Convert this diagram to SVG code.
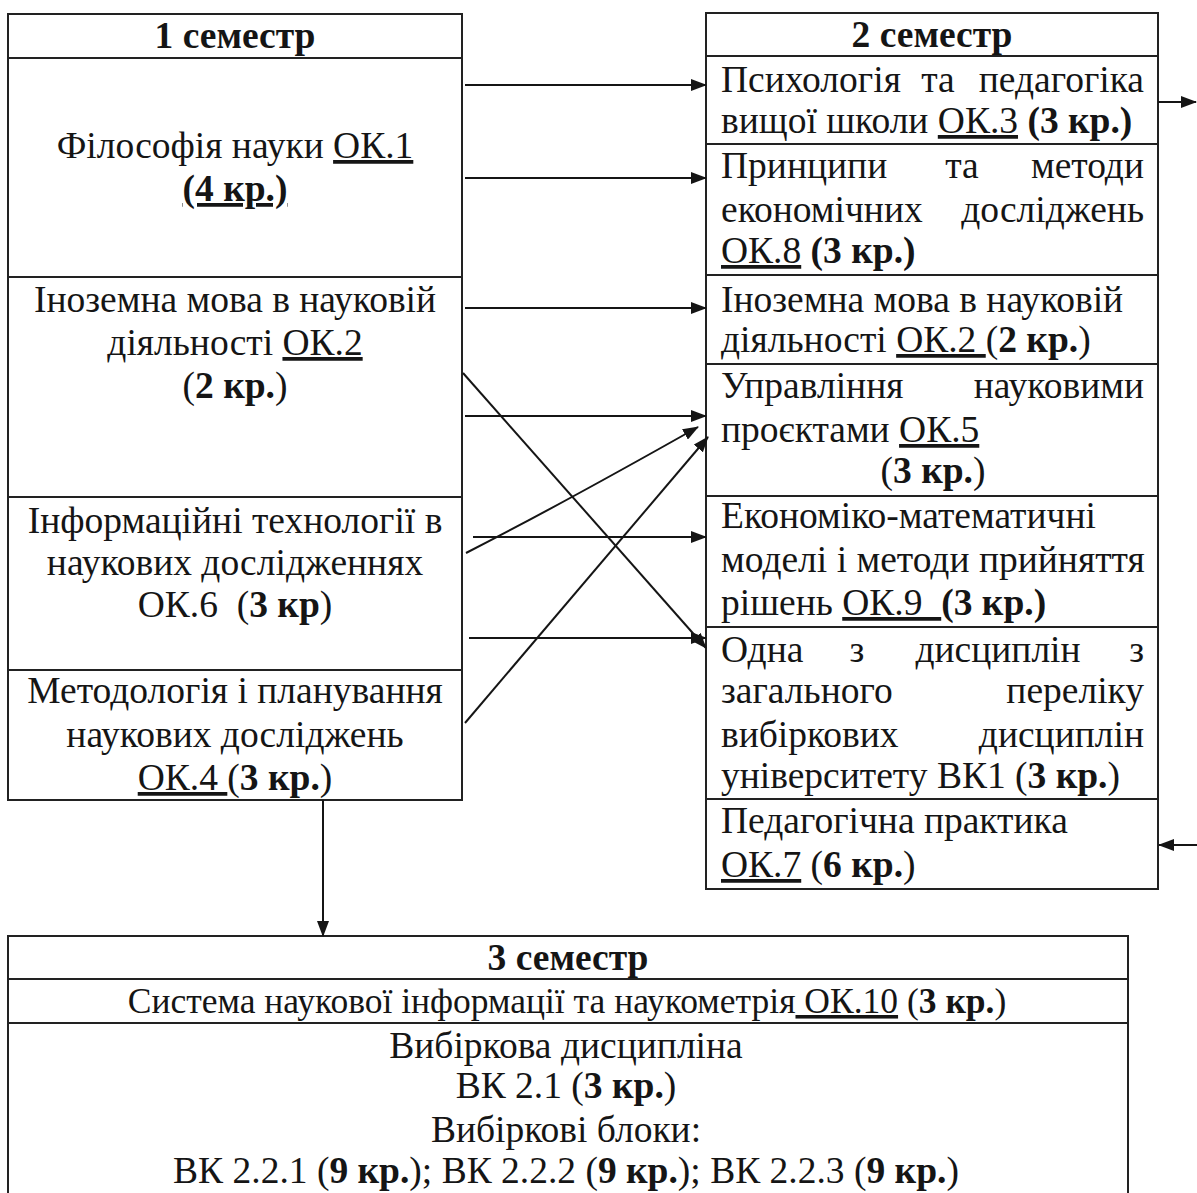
<svg xmlns="http://www.w3.org/2000/svg" width="1197" height="1193" viewBox="0 0 1197 1193">
<style>
text{font-family:"Liberation Serif","DejaVu Serif",serif;font-size:37.5px;fill:#151515}
.m{text-anchor:middle}
.e{text-anchor:end}
.b{font-weight:bold}
.u{text-decoration:underline}
.box{fill:none;stroke:#222;stroke-width:2}
.c{fill:none;stroke:#151515;stroke-width:2;marker-end:url(#ah)}
</style>
<defs>
<marker id="ah" viewBox="0 0 16 12" refX="15" refY="6" markerWidth="16" markerHeight="12" markerUnits="userSpaceOnUse" orient="auto">
<path d="M0,0 L16,6 L0,12 z" fill="#151515"/>
</marker>
</defs>
<rect width="1197" height="1193" fill="#fff"/>

<g id="sem1">
<rect class="box" x="8" y="14" width="454" height="786"/>
<line class="box" x1="8" y1="58" x2="462" y2="58"/>
<line class="box" x1="8" y1="277" x2="462" y2="277"/>
<line class="box" x1="8" y1="497" x2="462" y2="497"/>
<line class="box" x1="8" y1="670" x2="462" y2="670"/>
<text class="m b" x="235" y="48">1 семестр</text>
</g>
<g id="ok1">
<text class="m" x="235" y="158">Філософія науки <tspan class="u">ОК.1</tspan></text>
<text class="m b u" x="235" y="201">(4 кр.)</text>
</g>
<g id="ok2a">
<text class="m" x="235" y="312">Іноземна мова в науковій</text>
<text class="m" x="235" y="355">діяльності <tspan class="u">ОК.2</tspan></text>
<text class="m" x="235" y="398">(<tspan class="b">2 кр.</tspan>)</text>
</g>
<g id="ok6">
<text class="m" x="235" y="533">Інформаційні технології в</text>
<text class="m" x="235" y="575">наукових дослідженнях</text>
<text class="m" x="235" y="617">ОК.6&#160; (<tspan class="b">3 кр</tspan>)</text>
</g>
<g id="ok4">
<text class="m" x="235" y="703">Методологія і планування</text>
<text class="m" x="235" y="747">наукових досліджень</text>
<text class="m" x="235" y="790"><tspan class="u">ОК.4 </tspan>(<tspan class="b">3 кр.</tspan>)</text>
</g>

<g id="sem2">
<rect class="box" x="706" y="13" width="452" height="876"/>
<line class="box" x1="706" y1="56" x2="1158" y2="56"/>
<line class="box" x1="706" y1="144" x2="1158" y2="144"/>
<line class="box" x1="706" y1="275" x2="1158" y2="275"/>
<line class="box" x1="706" y1="364" x2="1158" y2="364"/>
<line class="box" x1="706" y1="496" x2="1158" y2="496"/>
<line class="box" x1="706" y1="627" x2="1158" y2="627"/>
<line class="box" x1="706" y1="799" x2="1158" y2="799"/>
<text class="m b" x="932" y="47">2 семестр</text>
</g>
<g id="ok3">
<text x="721" y="92">Психологія</text><text class="m" x="938" y="92">та</text><text class="e" x="1144" y="92">педагогіка</text>
<text x="721" y="133">вищої школи <tspan class="u">ОК.3</tspan> <tspan class="b">(3 кр.)</tspan></text>
</g>
<g id="ok8">
<text x="721" y="178">Принципи</text><text class="m" x="962" y="178">та</text><text class="e" x="1144" y="178">методи</text>
<text x="721" y="222">економічних</text><text class="e" x="1144" y="222">досліджень</text>
<text x="721" y="263"><tspan class="u">ОК.8</tspan> <tspan class="b">(3 кр.)</tspan></text>
</g>
<g id="ok2b">
<text x="721" y="312">Іноземна мова в науковій</text>
<text x="721" y="352">діяльності <tspan class="u">ОК.2 </tspan>(<tspan class="b">2 кр.</tspan>)</text>
</g>
<g id="ok5">
<text x="721" y="398">Управління</text><text class="e" x="1144" y="398">науковими</text>
<text x="721" y="442">проєктами <tspan class="u">ОК.5</tspan></text>
<text class="m" x="933" y="483">(<tspan class="b">3 кр.</tspan>)</text>
</g>
<g id="ok9">
<text x="721" y="528">Економіко-математичні</text>
<text x="721" y="572">моделі і методи прийняття</text>
<text x="721" y="615">рішень <tspan class="u">ОК.9&#160; </tspan><tspan class="b">(3 кр.)</tspan></text>
</g>
<g id="vk1">
<text x="721" y="662">Одна</text><text class="m" x="857" y="662">з</text><text class="m" x="998" y="662">дисциплін</text><text class="e" x="1144" y="662">з</text>
<text x="721" y="703">загального</text><text class="e" x="1144" y="703">переліку</text>
<text x="721" y="747">вибіркових</text><text class="e" x="1144" y="747">дисциплін</text>
<text x="721" y="788">університету ВК1 (<tspan class="b">3 кр.</tspan>)</text>
</g>
<g id="ok7">
<text x="721" y="833">Педагогічна практика</text>
<text x="721" y="877"><tspan class="u">ОК.7</tspan> (<tspan class="b">6 кр.</tspan>)</text>
</g>

<g id="sem3">
<path class="box" d="M8,1200 V936 H1128 V1200"/>
<line class="box" x1="8" y1="979" x2="1128" y2="979"/>
<line class="box" x1="8" y1="1023" x2="1128" y2="1023"/>
<text class="m b" x="568" y="970">3 семестр</text>
<text class="m" x="567" y="1013" style="font-size:35.5px">Система наукової інформації та наукометрія<tspan class="u"> ОК.10</tspan> (<tspan class="b">3 кр.</tspan>)</text>
<text class="m" x="566" y="1058">Вибіркова дисципліна</text>
<text class="m" x="566" y="1098">ВК 2.1 (<tspan class="b">3 кр.</tspan>)</text>
<text class="m" x="566" y="1142">Вибіркові блоки:</text>
<text class="m" x="566" y="1183">ВК 2.2.1 (<tspan class="b">9 кр.</tspan>); ВК 2.2.2 (<tspan class="b">9 кр.</tspan>); ВК 2.2.3 (<tspan class="b">9 кр.</tspan>)</text>
</g>

<g id="connectors">
<line class="c" x1="465" y1="85" x2="706" y2="85"/>
<line class="c" x1="465" y1="178" x2="706" y2="178"/>
<line class="c" x1="465" y1="308" x2="706" y2="308"/>
<line class="c" x1="465" y1="416" x2="706" y2="416"/>
<line class="c" x1="463" y1="373" x2="706" y2="648"/>
<path class="c" d="M466,553 Q560,505 698,427"/>
<line class="c" x1="473" y1="537" x2="706" y2="537"/>
<line class="c" x1="465" y1="723" x2="708" y2="437"/>
<line class="c" x1="469" y1="638" x2="706" y2="638"/>
<line class="c" x1="1158" y1="102" x2="1196" y2="102"/>
<line class="c" x1="1197" y1="845" x2="1159" y2="845"/>
<line class="c" x1="323" y1="800" x2="323" y2="936"/>
</g>
</svg>
